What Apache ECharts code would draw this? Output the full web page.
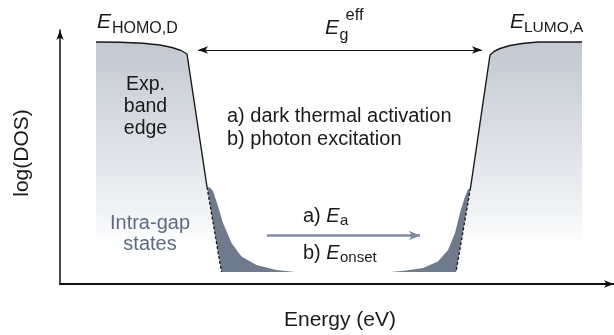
<!DOCTYPE html>
<html><head><meta charset="utf-8">
<script src="https://cdn.jsdelivr.net/npm/echarts@6/dist/echarts.min.js"></script>
<style>html,body{margin:0;padding:0;background:#fff}#c{width:614px;height:335px}</style>
</head><body><div id="c"></div>
<script>
// Schematic DOS (arbitrary units): x = energy, y = log(DOS)
const xRange = [0, 554];
const yRange = [0, 254];
// HOMO (donor) band: top curve + steep experimental band edge (solid part)
const homoEdge = [[36,242],[60,241.7],[83,240.7],[100,239],[112,236.5],[121,233.5],[127,230],[147,97]];
// extrapolated edge (dashed) into the gap
const homoTail = [[147,97],[161.5,12]];
// LUMO (acceptor) band edge (solid) and dashed extrapolation
const lumoEdge = [[410.5,96],[430,229],[434,232.5],[440,235.5],[450,238.5],[462,240.5],[478,242],[522,242]];
const lumoTail = [[410.5,96],[396,12]];
// intra-gap states
const gapFloor = 12;
const homoGapStates = [[161.5,12],[147,97],[150,96.5],[153,93],[157,81],[163,61],[171.5,41],[181.5,27.5],[196.5,19],[216.5,14],[235,12]];
const lumoGapStates = [[330,12],[346.5,13.5],[363,16],[378,22.5],[388,34],[395,51],[400,71],[405,87.5],[408,94.5],[410.5,96],[396,12]];
// arrows
const gapArrow = [[138,234],[422,234]];
const activationArrow = [[207,48.5],[360,48.5]];

const bandGradient = () => new echarts.graphic.LinearGradient(0,0,0,1,[
  {offset:0,color:'#c3c8d1'},{offset:0.45,color:'#dfe3e8'},{offset:0.68,color:'#eff1f4'},{offset:0.84,color:'#ffffff'}]);

const FONT = '"Liberation Sans", Arial, sans-serif';
function txt(text, x, y, size, opts) {
  opts = opts || {};
  return {type:'text', x:x, y:y, rotation: opts.rot || 0, silent:true, z:100,
    style:{text:text, fill: opts.color || '#1a1a1a', font: (opts.italic?'italic ':'') + size + 'px ' + FONT,
      align: opts.align || 'left', verticalAlign:'middle'}};
}

const chart = echarts.init(document.getElementById('c'), null, {renderer:'canvas'});
chart.setOption({
  animation:false,
  grid:{left:60, right:0, top:30, bottom:51},
  xAxis:{type:'value', z:10, min:xRange[0], max:xRange[1], splitLine:{show:false}, axisTick:{show:false}, axisLabel:{show:false},
    axisLine:{show:true, symbol:['none','arrow'], symbolSize:[5.5,10], lineStyle:{color:'#111', width:2}}},
  yAxis:{type:'value', z:10, min:yRange[0], max:yRange[1], splitLine:{show:false}, axisTick:{show:false}, axisLabel:{show:false},
    axisLine:{show:true, symbol:['none','arrow'], symbolSize:[5.5,10], lineStyle:{color:'#111', width:1.5}}},
  series:[
    {type:'line', data: homoEdge.concat(homoTail.slice(1)), symbol:'none', silent:true,
      lineStyle:{width:0, opacity:0}, areaStyle:{color:bandGradient(), opacity:1}, z:1},
    {type:'line', data: lumoTail.slice().reverse().concat(lumoEdge.slice(1)), symbol:'none', silent:true,
      lineStyle:{width:0, opacity:0}, areaStyle:{color:bandGradient(), opacity:1}, z:1},
    {type:'line', data: homoGapStates, symbol:'none', silent:true,
      lineStyle:{width:0, opacity:0}, areaStyle:{color:'#6f7b8d', opacity:1, origin:gapFloor}, z:2},
    {type:'line', data: lumoGapStates, symbol:'none', silent:true,
      lineStyle:{width:0, opacity:0}, areaStyle:{color:'#6f7b8d', opacity:1, origin:gapFloor}, z:2},
    {type:'line', data: homoEdge, symbol:'none', silent:true, lineStyle:{color:'#1a1a1a', width:1.4}, z:3},
    {type:'line', data: lumoEdge, symbol:'none', silent:true, lineStyle:{color:'#1a1a1a', width:1.4}, z:3},
    {type:'line', data: homoTail, symbol:'none', silent:true, lineStyle:{color:'#1a1a1a', width:1.3, type:[3,2]}, z:3},
    {type:'line', data: lumoTail, symbol:'none', silent:true, lineStyle:{color:'#1a1a1a', width:1.3, type:[3,2]}, z:3},
    {type:'line', data: [], silent:true,
      markLine:{silent:true, animation:false, label:{show:false}, emphasis:{disabled:true},
        data:[
          [{coord:gapArrow[0], symbol:'arrow', symbolSize:[5.5,10], lineStyle:{color:'#111', width:1.2, type:'solid'}},
           {coord:gapArrow[1], symbol:'arrow', symbolSize:[5.5,10]}],
          [{coord:activationArrow[0], symbol:'none', lineStyle:{color:'#7d8ca3', width:2.5, type:'solid'}},
           {coord:activationArrow[1], symbol:'arrow', symbolSize:[7,11]}]
        ]}}
  ],
  graphic:[
    txt('E', 97, 22.6, 21, {italic:true}),
    txt('HOMO,D', 112, 28.2, 16),
    txt('E', 325, 28.6, 21, {italic:true}),
    txt('g', 339.5, 36, 16),
    txt('eff', 345.5, 15.7, 16.5),
    txt('E', 510, 22.6, 21, {italic:true}),
    txt('LUMO,A', 524, 27.3, 15.5),
    txt('Exp.', 145.5, 84.9, 19.5, {align:'center'}),
    txt('band', 145.5, 106.4, 19.5, {align:'center'}),
    txt('edge', 145.5, 128.4, 19.5, {align:'center'}),
    txt('a) dark thermal activation', 227, 116.5, 20),
    txt('b) photon excitation', 227, 139, 20),
    txt('Intra-gap', 150, 223, 20, {align:'center', color:'#5d6b82'}),
    txt('states', 150, 244.7, 20, {align:'center', color:'#5d6b82'}),
    txt('a) ', 303, 216, 20),
    txt('E', 326.3, 216, 20, {italic:true}),
    txt('a', 340, 220.7, 15),
    txt('b) ', 303, 253, 20),
    txt('E', 326.3, 253, 20, {italic:true}),
    txt('onset', 340, 257.7, 15),
    txt('Energy (eV)', 340, 320.7, 21, {align:'center'}),
    txt('log(DOS)', 22.5, 153, 21, {align:'center', rot:Math.PI/2})
  ]
});
</script></body></html>
